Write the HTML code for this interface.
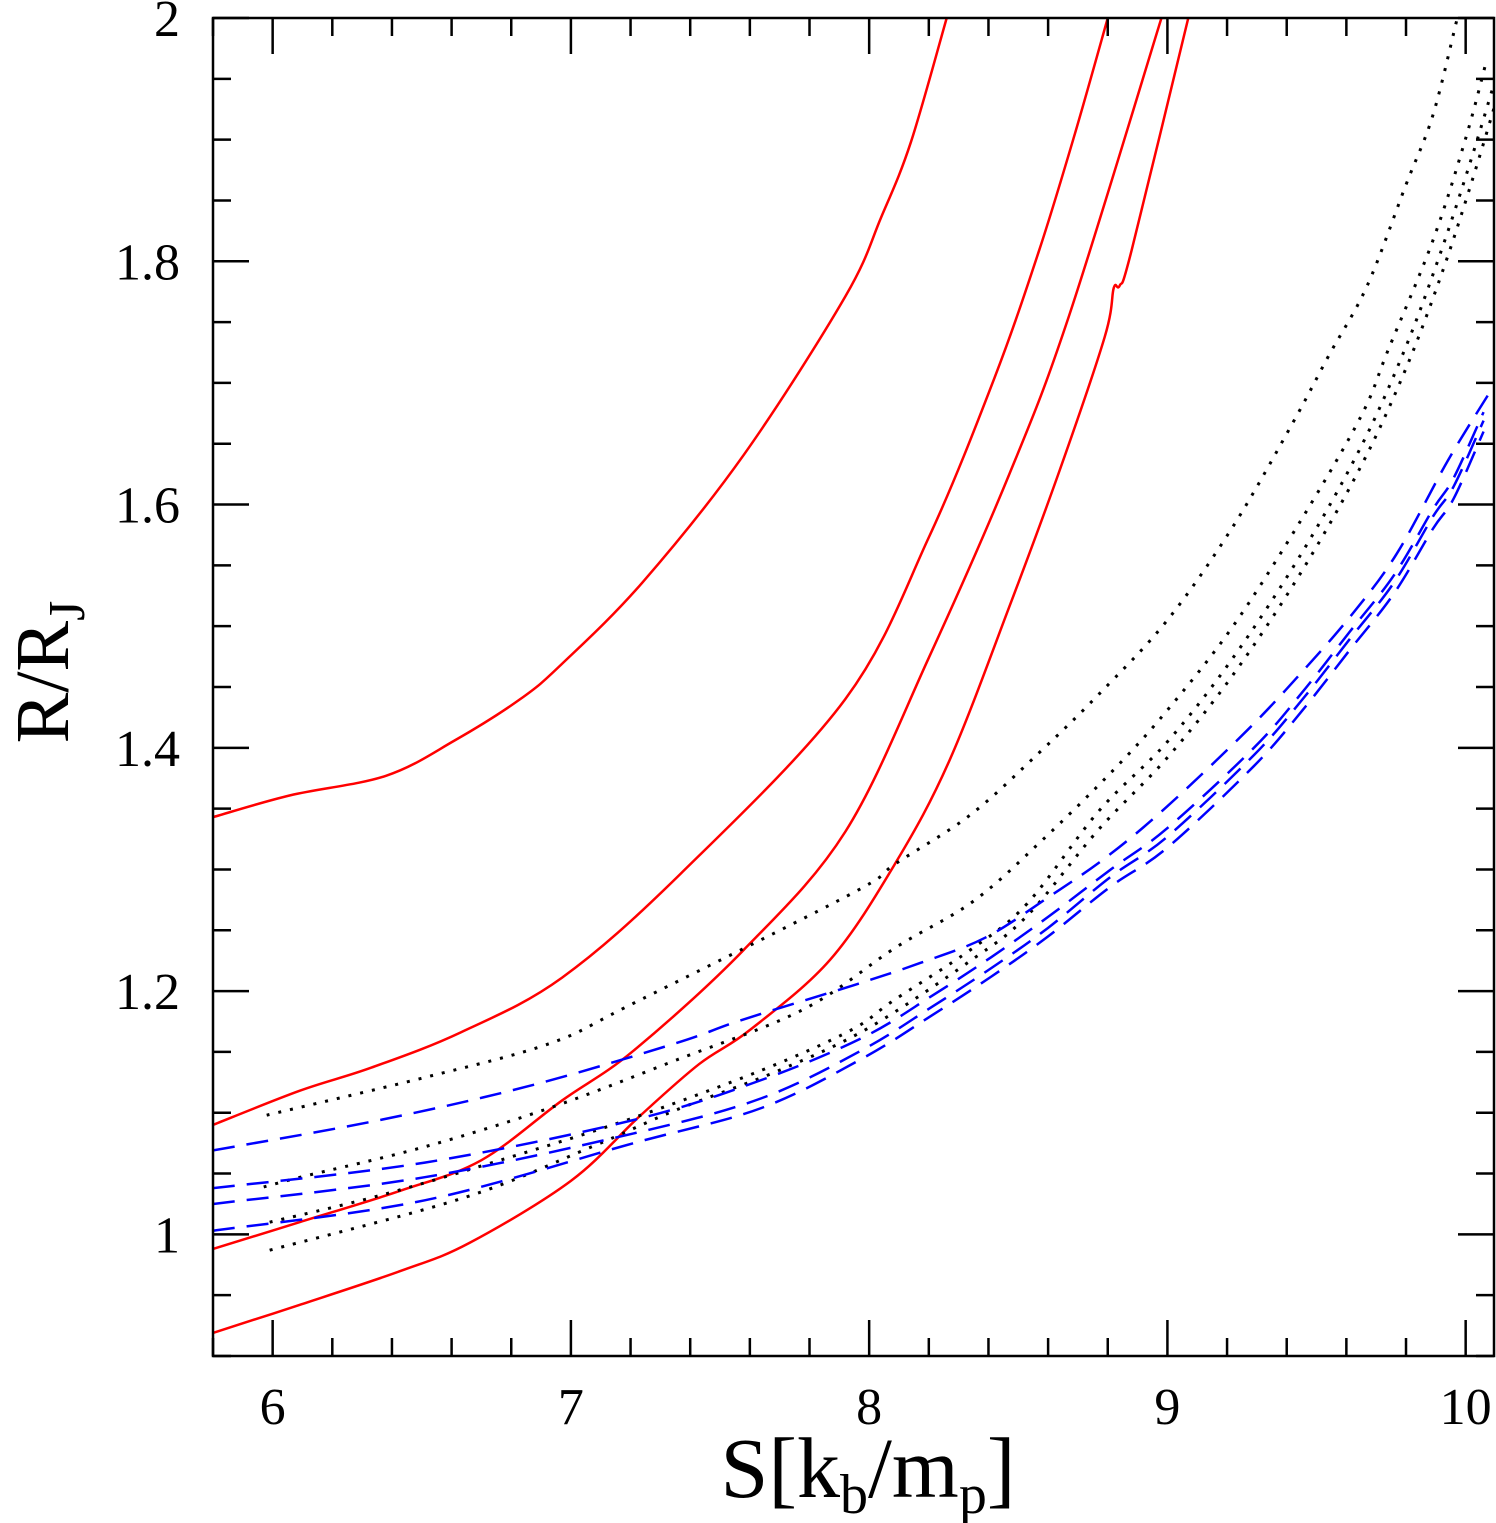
<!DOCTYPE html>
<html><head><meta charset="utf-8"><style>
html,body{margin:0;padding:0;background:#fff;}
svg{display:block;}
text{font-family:"Liberation Serif",serif;fill:#000;}
</style></head><body>
<svg id="chart" width="1496" height="1523" viewBox="0 0 1496 1523" xmlns="http://www.w3.org/2000/svg">
<defs><clipPath id="clip"><rect x="213" y="18" width="1281" height="1338"/></clipPath></defs>
<g id="series" clip-path="url(#clip)"></g>
<g id="axes"></g>
<text x="868" y="1497" font-size="86" text-anchor="middle">S[k<tspan font-size="56" dy="16">b</tspan><tspan dy="-16">/m</tspan><tspan font-size="56" dy="16">p</tspan><tspan dy="-16">]</tspan></text>
<text transform="translate(68,672) rotate(-90)" font-size="76" text-anchor="middle">R/R<tspan font-size="52" dy="16">J</tspan></text>
</svg>
<script>
const xTicks=[6,7,8,9,10];
const yTicks=[1,1.2,1.4,1.6,1.8,2];
const yTickLabels=["1","1.2","1.4","1.6","1.8","2"];
const redX1=[5.80,6.06,6.38,6.61,6.83,6.97,7.24,7.58,7.92,8.04,8.14,8.26];
const redY1=[1.343,1.361,1.377,1.406,1.440,1.469,1.536,1.641,1.771,1.836,1.898,2.0];
const redX2=[5.80,6.09,6.33,6.63,6.97,7.37,7.92,8.20,8.42,8.57,8.69,8.80];
const redY2=[1.090,1.118,1.137,1.166,1.211,1.297,1.440,1.573,1.704,1.809,1.905,2.0];
const redX3=[5.80,6.09,6.43,6.70,6.97,7.21,7.58,7.92,8.20,8.47,8.67,8.98];
const redY3=[0.988,1.010,1.036,1.061,1.110,1.151,1.234,1.331,1.474,1.625,1.755,2.0];
const redX4=[5.80,6.09,6.43,6.66,7.00,7.23,7.43,7.60,7.87,8.09,8.27,8.47,8.64,8.79,8.82,8.84,8.88,9.07];
const redY4=[0.919,0.942,0.970,0.993,1.044,1.097,1.140,1.168,1.226,1.306,1.390,1.516,1.629,1.738,1.778,1.780,1.809,2.0];
const dotX1=[5.98,6.51,6.93,7.21,7.94,8.09,8.34,8.57,8.77,9.0,9.22,9.42,9.54,9.67,9.80,9.89,9.97];
const dotY1=[1.098,1.129,1.157,1.19,1.28,1.305,1.345,1.396,1.444,1.505,1.582,1.667,1.722,1.780,1.863,1.920,1.998];
const dotX2=[5.97,6.11,6.51,6.93,7.35,7.78,8.09,8.35,8.58,8.82,9.0,9.22,9.45,9.65,9.74,9.89,10.0,10.07];
const dotY2=[1.039,1.048,1.072,1.104,1.143,1.185,1.236,1.274,1.324,1.382,1.431,1.500,1.588,1.673,1.727,1.817,1.901,1.965];
const dotX3=[5.99,6.36,6.79,7.2,7.64,7.94,8.08,8.34,8.53,8.77,9.0,9.22,9.45,9.65,9.80,9.92,10.02,10.1];
const dotY3=[1.010,1.032,1.063,1.095,1.135,1.168,1.192,1.234,1.272,1.348,1.405,1.474,1.560,1.648,1.730,1.810,1.885,1.950];
const dotX4=[5.99,6.64,7.07,7.35,7.7,8.0,8.34,8.53,8.77,9.0,9.22,9.45,9.65,9.80,9.92,10.02,10.1];
const dotY4=[0.987,1.030,1.072,1.102,1.135,1.170,1.225,1.262,1.333,1.392,1.460,1.545,1.632,1.712,1.790,1.865,1.930];
const blueX1=[5.80,6.36,6.86,7.35,7.57,7.95,8.17,8.39,8.60,8.80,9.0,9.27,9.45,9.62,9.77,9.94,10.08];
const blueY1=[1.069,1.094,1.122,1.157,1.176,1.205,1.223,1.244,1.277,1.311,1.352,1.415,1.462,1.510,1.560,1.636,1.692];
const blueX=[5.80,6.51,7.21,7.64,7.98,8.21,8.41,8.60,8.81,9.0,9.29,9.45,9.61,9.76,9.89,9.96,10.06];
const blueY2=[1.038,1.059,1.094,1.127,1.162,1.196,1.228,1.261,1.300,1.334,1.400,1.445,1.495,1.542,1.596,1.622,1.676];
const blueY3=[1.025,1.047,1.083,1.112,1.152,1.187,1.219,1.252,1.294,1.327,1.394,1.439,1.489,1.536,1.590,1.615,1.669];
const blueY4=[1.003,1.028,1.075,1.104,1.145,1.18,1.212,1.245,1.286,1.318,1.385,1.430,1.480,1.527,1.580,1.605,1.660];

const X0=213,X1=1494,Y0=18,Y1=1356,xmin=5.8,xmax=10.095,ymin=0.9,ymax=2.0;
function sx(v){return X0+(v-xmin)/(xmax-xmin)*(X1-X0);}
function sy(v){return Y1-(v-ymin)/(ymax-ymin)*(Y1-Y0);}
const NS="http://www.w3.org/2000/svg";
const gS=document.getElementById('series'), gA=document.getElementById('axes');
function pathD(xs,ys){
  const p=xs.map((x,i)=>[sx(x),sy(ys[i])]);
  let d='M'+p[0][0]+','+p[0][1];
  for(let i=0;i<p.length-1;i++){
    const a=p[Math.max(0,i-1)],b=p[i],c=p[i+1],e=p[Math.min(p.length-1,i+2)];
    const c1=[b[0]+(c[0]-a[0])/6,b[1]+(c[1]-a[1])/6],c2=[c[0]-(e[0]-b[0])/6,c[1]-(e[1]-b[1])/6];
    d+=' C'+c1+' '+c2+' '+c;
  }
  return d;
}
function line(xs,ys,color,dash,name){
  const el=document.createElementNS(NS,'path');
  el.setAttribute('d',pathD(xs,ys));
  el.setAttribute('fill','none');el.setAttribute('stroke',color);
  el.setAttribute('stroke-width',dash==='dot'?3:2.5);
  if(dash==='dot'){el.setAttribute('stroke-dasharray','3 9');}
  else if(dash){el.setAttribute('stroke-dasharray',dash);}
  
  
  gS.appendChild(el);
}
line(redX1,redY1,'#f00',null,'red-curve-1');
line(redX2,redY2,'#f00',null,'red-curve-2');
line(redX3,redY3,'#f00',null,'red-curve-3');
line(redX4,redY4,'#f00',null,'red-curve-4');
line(dotX1,dotY1,'#000','dot','dotted-curve-1');
line(dotX2,dotY2,'#000','dot','dotted-curve-2');
line(dotX3,dotY3,'#000','dot','dotted-curve-3');
line(dotX4,dotY4,'#000','dot','dotted-curve-4');
line(blueX1,blueY1,'#00f','22 12','dashed-curve-1');
line(blueX,blueY2,'#00f','22 12','dashed-curve-2');
line(blueX,blueY3,'#00f','22 12','dashed-curve-3');
line(blueX,blueY4,'#00f','22 12','dashed-curve-4');

function seg(x1,y1,x2,y2,name){
  const l=document.createElementNS(NS,'line');
  l.setAttribute('x1',x1);l.setAttribute('y1',y1);l.setAttribute('x2',x2);l.setAttribute('y2',y2);
  l.setAttribute('stroke','#000');l.setAttribute('stroke-width',2.5);
  
  
  gA.appendChild(l);
}
const fr=document.createElementNS(NS,'rect');
fr.setAttribute('x',X0);fr.setAttribute('y',Y0);fr.setAttribute('width',X1-X0);fr.setAttribute('height',Y1-Y0);
fr.setAttribute('fill','none');fr.setAttribute('stroke','#000');fr.setAttribute('stroke-width',2.5);


gA.appendChild(fr);
for(let v=5.8;v<=10.1;v+=0.2){
  const vv=Math.round(v*10)/10; const major=Math.abs(vv-Math.round(vv))<1e-6;
  const L=major?36:18, x=sx(vv);
  seg(x,Y1,x,Y1-L,'x-tick');seg(x,Y0,x,Y0+L,'x-tick-top');
}
for(let v=0.9;v<=2.001;v+=0.05){
  const vv=Math.round(v*100)/100; const major=Math.abs(vv*5-Math.round(vv*5))<1e-6;
  const L=major?36:18, y=sy(vv);
  seg(X0,y,X0+L,y,'y-tick');seg(X1,y,X1-L,y,'y-tick-right');
}
xTicks.forEach(v=>{
  const t=document.createElementNS(NS,'text');
  t.setAttribute('x',sx(v));t.setAttribute('y',1424);t.setAttribute('font-size',52);t.setAttribute('text-anchor','middle');
  t.textContent=String(v);
  
  
  gA.appendChild(t);
});
yTicks.forEach((v,i)=>{
  const t=document.createElementNS(NS,'text');
  t.setAttribute('x',180);t.setAttribute('y',sy(v)+18);t.setAttribute('font-size',52);t.setAttribute('text-anchor','end');
  t.textContent=yTickLabels[i];
  
  
  gA.appendChild(t);
});
</script>
</body></html>
